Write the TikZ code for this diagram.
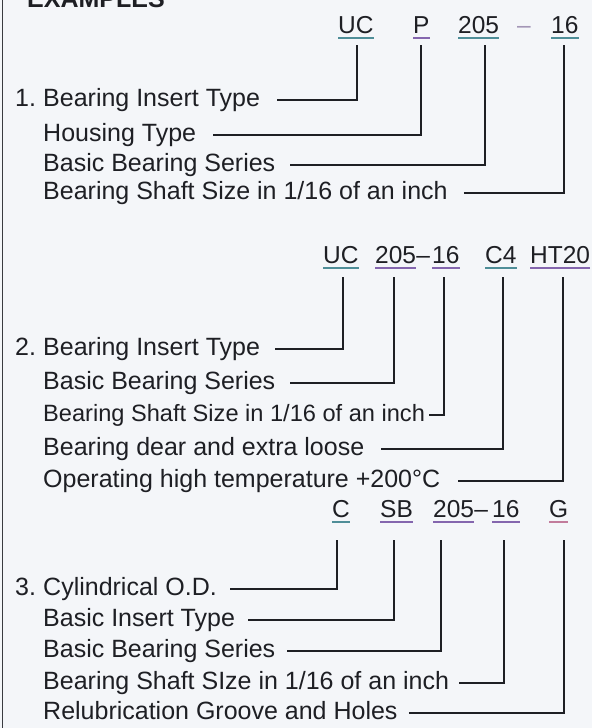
\documentclass[tikz,border=0pt]{standalone}
\usepackage{fontspec}
\setmainfont{Liberation Sans}
\usepackage{tikz}
\usetikzlibrary{positioning,calc}
\definecolor{ink}{HTML}{1E1F24}
\definecolor{paper}{HTML}{F4F6F9}
\definecolor{rule}{HTML}{3A3B40}
\definecolor{ulteal}{HTML}{4F8E98}
\definecolor{ulpurple}{HTML}{8466AE}
\definecolor{ulpink}{HTML}{C27C9C}
\newcommand\lblsize{\fontsize{25}{30}\selectfont}
\newcommand\codesize{\fontsize{24.5}{30}\selectfont}

\begin{document}
\begin{tikzpicture}[x=1pt,y=-1pt,
  lbl/.style={anchor=base west,inner sep=0pt,font=\lblsize,text=ink,text height=18pt,text depth=5pt},
  code/.style={anchor=base west,inner sep=0pt,font=\codesize,text=ink},
  lead/.style={draw=ink,line width=1.3pt},
  uline/.style={line width=1.3pt}]
\useasboundingbox (0,0) rectangle (592,728);
\fill[paper] (0,0) rectangle (592,728);
% frame edge on the left
\draw[rule,line width=1.6pt] (2.5,0) -- (2.5,728);
\node[lbl,font=\lblsize\bfseries] (title) at (27,8) {EXAMPLES};

% example 1: UC P 205 - 16
\node[code] (c11) at (338,33) {UC};
\node[code] (c12) at (413,33) {P};
\node[code] (c13) at (458,33) {205};
\node[code,text=ulpurple!70!ink!60] (h1) at (517,33) {–};
\node[code] (c14) at (551,33) {16};
\coordinate (d11) at (357,45);
\coordinate (d12) at (421,45);
\coordinate (d13) at (485,45);
\coordinate (d14) at (564,45);
\node[lbl] (n1) at (15,106.5) {1.};
\node[lbl] (a11) at (43,106.5) {Bearing Insert Type};
\node[lbl] (a12) at (43,141.5) {Housing Type};
\node[lbl] (a13) at (43,171.5) {Basic Bearing Series};
\node[lbl] (a14) at (43,199.5) {Bearing Shaft Size in 1/16 of an inch};
\draw[lead] ([xshift=17pt]a11.east) -| (d11);
\draw[lead] ([xshift=17pt]a12.east) -| (d12);
\draw[lead] ([xshift=15pt]a13.east) -| (d13);
\draw[lead] ([xshift=16pt]a14.east) -| (d14);

% example 2: UC 205-16 C4 HT20
\node[code] (c21) at (323,263) {UC};
\node[code] (c22) at (375,263) {205};
\node[code] (h2) at (c22.base east) [anchor=base west] {–};
\node[code] (c23) at (432,263) {16};
\node[code] (c24) at (485,263) {C4};
\node[code] (c25) at (530,263) {HT20};
\coordinate (d21) at (343,277);
\coordinate (d22) at (394,277);
\coordinate (d23) at (444,277);
\coordinate (d24) at (503,277);
\coordinate (d25) at (563,277);
\node[lbl] (n2) at (15,355.5) {2.};
\node[lbl] (a21) at (43,355.5) {Bearing Insert Type};
\node[lbl] (a22) at (43,389.5) {Basic Bearing Series};
\node[lbl,font=\fontsize{23.6}{28}\selectfont] (a23) at (43,421.5) {Bearing Shaft Size in 1/16 of an inch};
\node[lbl] (a24) at (43,455.5) {Bearing dear and extra loose};
\node[lbl] (a25) at (43,487.5) {Operating high temperature +200°C};
\draw[lead] ([xshift=15pt]a21.east) -| (d21);
\draw[lead] ([xshift=15pt]a22.east) -| (d22);
\draw[lead] ([xshift=4pt]a23.east) -| (d23);
\draw[lead] ([xshift=17pt]a24.east) -| (d24);
\draw[lead] ([xshift=18pt]a25.east) -| (d25);

% example 3: C SB 205-16 G
\node[code] (c31) at (332,517) {C};
\node[code] (c32) at (380,517) {SB};
\node[code] (c33) at (433,517) {205};
\node[code] (h3) at (c33.base east) [anchor=base west] {–};
\node[code] (c34) at (492,517) {16};
\node[code] (c35) at (549,517) {G};
\coordinate (d31) at (337,540);
\coordinate (d32) at (394,540);
\coordinate (d33) at (441,540);
\coordinate (d34) at (504,540);
\coordinate (d35) at (564,540);
\node[lbl] (n3) at (15,595.5) {3.};
\node[lbl] (a31) at (43,595.5) {Cylindrical O.D.};
\node[lbl] (a32) at (43,626.5) {Basic Insert Type};
\node[lbl] (a33) at (43,657.5) {Basic Bearing Series};
\node[lbl] (a34) at (43,689.5) {Bearing Shaft SIze in 1/16 of an inch};
\node[lbl] (a35) at (43,719.5) {Relubrication Groove and Holes};
\draw[lead] ([xshift=13pt]a31.east) -| (d31);
\draw[lead] ([xshift=13pt]a32.east) -| (d32);
\draw[lead] ([xshift=12pt]a33.east) -| (d33);
\draw[lead] ([xshift=10pt]a34.east) -| (d34);
\draw[lead] ([xshift=11pt]a35.east) -| (d35);

% underlines under the code letters
\foreach \c/\col in {c11/ulteal,c12/ulpurple,c13/ulteal,c14/ulteal,
  c21/ulteal,c22/ulpurple,c23/ulpurple,c24/ulteal,c25/ulpurple,
  c31/ulteal,c32/ulpurple,c33/ulpurple,c34/ulpurple,c35/ulpink}
  {\draw[uline,\col] ([yshift=-5pt]\c.base west) -- ([yshift=-5pt]\c.base east);}
\end{tikzpicture}
\end{document}
